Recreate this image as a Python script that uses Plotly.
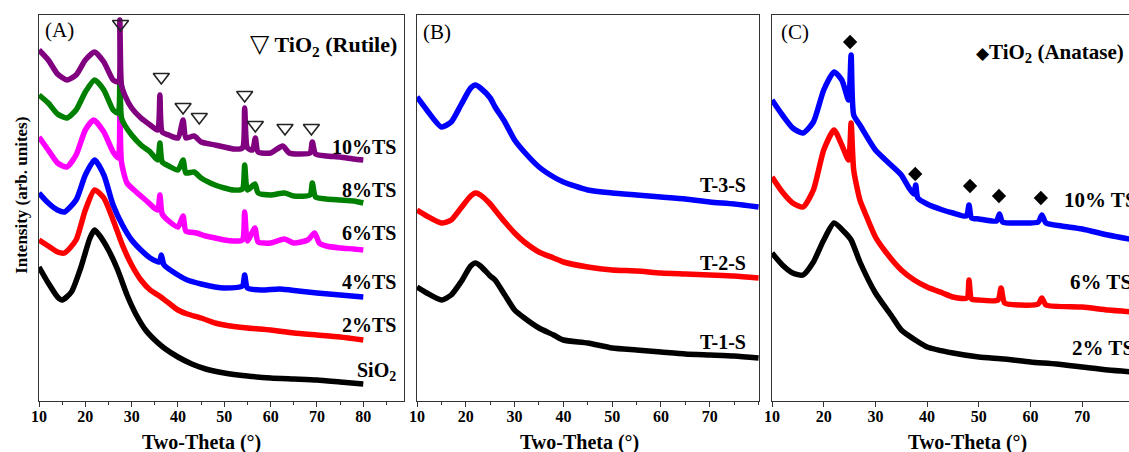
import plotly.graph_objects as go

# ---------------- Panel A data (Two-Theta in degrees, intensity arb.) ----------------
a10_x = [10, 12, 14, 16, 18, 20, 22, 24, 26, 27.1, 27.45, 27.8, 28.5, 30, 32, 34, 35.6, 36.1, 36.6, 38, 40,
         41.1, 41.7, 43.5, 45, 48, 50, 52, 53.9, 54.4, 55.0, 56.1, 56.7, 57.3, 60, 62.6, 64, 66, 68.5, 69.0,
         69.7, 72, 75, 78, 80]
a10_y = [351, 341, 327, 321, 326, 341, 349, 339, 321, 319, 381, 316, 306, 293, 283, 276, 271, 306, 269, 266, 263,
         281, 263, 265, 259, 256, 254, 252, 253, 293, 253, 251, 263, 249, 248, 255, 248, 247, 248, 259,
         247, 245, 244, 242, 241]

a8_x = [10, 12, 14, 16, 18, 20, 22, 24, 26, 27.1, 27.45, 27.8, 28.5, 30, 32, 34, 35.6, 36.1, 36.6, 38, 40,
        41.1, 41.7, 43.5, 45, 48, 50, 52, 53.9, 54.4, 55.0, 56.6, 57.3, 60, 63, 65, 68.5, 69.0, 69.7, 72, 75, 78, 80]
a8_y = [306, 298, 287, 283, 291, 309, 321, 311, 291, 288, 326, 283, 276, 266, 256, 249, 241, 258, 239, 235, 231,
        241, 228, 229, 223, 216, 213, 211, 212, 236, 211, 217, 208, 206, 208, 205, 206, 218, 204, 202, 201, 200, 198]

a6_x = [10, 12, 14, 16, 18, 20, 21.8, 24, 26, 27.1, 27.45, 27.8, 29, 31, 33, 35.6, 36.1, 36.6, 38, 40,
        41.1, 41.7, 44, 46, 48, 50, 52, 53.9, 54.4, 55.0, 56.6, 57.3, 60, 63, 65, 68, 69.5, 70.5, 72, 75, 78, 80]
a6_y = [264, 251, 238, 234, 246, 271, 281, 269, 249, 243, 301, 239, 218, 209, 201, 191, 206, 187, 180, 174,
        185, 170, 168, 165, 163, 161, 160, 161, 189, 160, 173, 159, 158, 162, 158, 161, 168, 158, 155, 153, 152, 151]

a4_x = [10, 12, 14, 15.5, 18, 20, 22, 24, 26, 28, 30, 32, 34, 36, 36.4, 37, 40, 42, 45, 48, 50, 53.9, 54.4,
        55, 58, 62, 66, 70, 75, 80]
a4_y = [208, 198, 191, 189, 201, 226, 241, 226, 196, 176, 161, 151, 143, 139, 146, 136, 126, 121, 117, 114, 113,
        115, 126, 113, 111, 112, 110, 108, 106, 104]

a2_x = [10, 12, 14, 15.5, 18, 20, 22, 24, 26, 28, 30, 32, 34, 36, 38, 40, 42, 45, 48, 50, 55, 60, 65, 70, 75, 80]
a2_y = [161, 155, 149, 148, 161, 191, 211, 203, 181, 156, 136, 121, 111, 105, 98, 91, 87, 83, 78, 76, 73, 71,
        68, 66, 64, 61]

asio2_x = [10, 12, 14, 15, 17, 19, 21, 22, 23, 25, 27, 29, 31, 33, 35, 37, 40, 43, 46, 50, 55, 60, 65, 70, 75, 80]
asio2_y = [134, 118, 104, 101, 109, 133, 163, 171, 166, 151, 131, 106, 86, 71, 61, 53, 44, 37, 32, 28, 25, 23,
           22, 21, 19, 17]

rutile_x = [27.6, 36.4, 41.1, 44.6, 54.4, 56.7, 63.1, 68.8]
rutile_y = [377, 324, 294, 284, 306, 276, 273, 273]

# ---------------- Panel B data ----------------
b_x = [10, 12, 15, 17, 19, 21, 22, 23, 25, 26, 28, 30, 32, 35, 38, 40, 45, 50, 55, 60, 65, 70, 75, 80]
b3_y = [304, 291, 274, 279, 296, 313, 316, 313, 303, 294, 279, 261, 249, 234, 224, 219, 211, 208, 206, 204,
        202, 199, 197, 194]
b2_y = [191, 185, 178, 181, 193, 205, 208, 206, 197, 191, 179, 168, 159, 149, 143, 139, 134, 131, 130, 128,
        127, 126, 125, 123]
b1_y = [114, 108, 101, 106, 119, 135, 138, 135, 125, 121, 106, 91, 83, 73, 66, 61, 58, 53, 51, 49, 47, 46,
        45, 43]

# ---------------- Panel C data ----------------
c10_x = [10, 12, 14, 16, 18, 20, 22, 23.5, 24.8, 25.3, 25.8, 27, 30, 33, 35, 36.5, 37.4, 37.8, 38.2, 40, 43, 45,
         47.6, 48.1, 48.6, 50, 53.4, 54, 54.6, 58, 61.5, 62.2, 63, 66, 70, 75, 80]
c10_y = [301, 286, 273, 268, 279, 311, 329, 321, 301, 346, 286, 276, 251, 236, 226, 213, 207, 216, 203, 197,
         191, 188, 185, 196, 183, 182, 180, 187, 179, 178, 179, 186, 178, 175, 172, 166, 161]

c6_x = [10, 12, 14, 16, 18, 20, 22, 23.5, 24.8, 25.3, 25.8, 27, 28, 30, 32, 35, 37.5, 40, 43, 45, 47.7, 48.1,
        48.6, 50, 53.7, 54.3, 55, 58, 61.5, 62.2, 63, 70, 75, 80]
c6_y = [224, 209, 198, 194, 211, 251, 271, 256, 241, 278, 231, 201, 188, 164, 149, 131, 121, 114, 108, 104,
        103, 121, 102, 101, 101, 113, 98, 96, 97, 103, 96, 94, 91, 89]

c2_x = [10, 12, 14, 16, 18, 20, 22, 24, 25.3, 27, 30, 33, 35, 38, 40, 45, 50, 55, 60, 65, 70, 75, 80]
c2_y = [148, 136, 128, 126, 139, 161, 178, 169, 161, 139, 108, 86, 71, 60, 54, 48, 44, 42, 39, 37, 34, 31, 29]

anatase_x = [25.1, 37.7, 48.3, 53.9, 62.0]
anatase_y = [359, 227, 215, 205, 203]

x_ticks = [10, 20, 30, 40, 50, 60, 70, 80]
x_ticks_b = [10, 20, 30, 40, 50, 60, 70]

SERIF = "Liberation Serif"
LW = 5.5

fig = go.Figure()

def add_line(x, y, color, ax):
    fig.add_trace(go.Scatter(x=x, y=y, mode="lines",
                             line=dict(color=color, width=LW, shape="spline", smoothing=0.6),
                             xaxis=ax, yaxis=ax.replace("x", "y"), showlegend=False, hoverinfo="skip"))

# panel A (bottom to top)
add_line(asio2_x, asio2_y, "#000000", "x")
add_line(a2_x, a2_y, "#FF0000", "x")
add_line(a4_x, a4_y, "#0000FF", "x")
add_line(a6_x, a6_y, "#FF00FF", "x")
add_line(a8_x, a8_y, "#008000", "x")
add_line(a10_x, a10_y, "#800080", "x")
fig.add_trace(go.Scatter(x=rutile_x, y=rutile_y, mode="markers",
                         marker=dict(symbol="triangle-down-open", size=14, color="#222222",
                                     line=dict(width=1.6, color="#222222")),
                         xaxis="x", yaxis="y", showlegend=False, hoverinfo="skip"))

# panel B
add_line(b_x, b1_y, "#000000", "x2")
add_line(b_x, b2_y, "#FF0000", "x2")
add_line(b_x, b3_y, "#0000FF", "x2")

# panel C
add_line(c2_x, c2_y, "#000000", "x3")
add_line(c6_x, c6_y, "#FF0000", "x3")
add_line(c10_x, c10_y, "#0000FF", "x3")
fig.add_trace(go.Scatter(x=anatase_x, y=anatase_y, mode="markers",
                         marker=dict(symbol="diamond", size=11, color="#000000"),
                         xaxis="x3", yaxis="y3", showlegend=False, hoverinfo="skip"))

tickfont = dict(family=SERIF, size=16, color="#000000", weight="bold")
xcommon = dict(showline=True, linecolor="#333333", linewidth=1, mirror=True,
               ticks="outside", ticklen=5, tickwidth=1, tickcolor="#333333",
               showgrid=False, zeroline=False, tickfont=tickfont, ticklabelstandoff=-4)
minor = dict(dtick=5, ticks="outside", ticklen=3, tickcolor="#333333", showgrid=False)
ycommon = dict(showline=True, linecolor="#333333", linewidth=1, ticks="", showticklabels=False,
               showgrid=False, zeroline=False, range=[0, 386])

fig.update_layout(
    width=1129, height=452,
    margin=dict(l=39, r=0, t=15, b=51),
    paper_bgcolor="white", plot_bgcolor="white",
    font=dict(family=SERIF),
    xaxis=dict(domain=[0, 0.3349], range=[10, 88.8], tickvals=x_ticks, minor=minor, **xcommon),
    yaxis=dict(anchor="x", mirror=True, **ycommon),
    xaxis2=dict(domain=[0.3468, 0.6606], range=[10, 80.1], anchor="y2", tickvals=x_ticks_b, minor=minor, **xcommon),
    yaxis2=dict(anchor="x2", mirror=True, **ycommon),
    xaxis3=dict(domain=[0.6725, 1.0], range=[10, 79.05], anchor="y3", tickvals=x_ticks, **xcommon),
    yaxis3=dict(anchor="x3", mirror=False, **ycommon),
)

def txt(x, y, s, xref, yref, size=20, xanchor="center", bold=True, angle=0):
    fig.add_annotation(x=x, y=y, xref=xref, yref=yref, text=(f"<b>{s}</b>" if bold else s),
                       showarrow=False, xanchor=xanchor, yanchor="middle", textangle=angle,
                       font=dict(family=SERIF, size=size, color="#000000"))

# panel letters
txt(14.5, 371, "(A)", "x", "y", size=21, bold=False)
txt(14.1, 369, "(B)", "x2", "y2", size=21, bold=False)
txt(14.4, 369, "(C)", "x3", "y3", size=21, bold=False)

# legends
fig.add_annotation(x=87.8, y=356, xref="x", yref="y", xanchor="right", yanchor="middle", showarrow=False,
                   text="<span style='font-size:25px'>▽</span> <b>TiO<sub>2</sub> (Rutile)</b>",
                   font=dict(family=SERIF, size=22, color="#000000"))
fig.add_annotation(x=78.5, y=348, xref="x3", yref="y3", xanchor="right", yanchor="middle", showarrow=False,
                   text="<span style='font-size:17px'>◆</span><b>TiO<sub>2</sub> (Anatase)</b>",
                   font=dict(family=SERIF, size=21, color="#000000"))

# series labels panel A
for s, yy in [("10%TS", 254), ("8%TS", 211), ("6%TS", 168), ("4%TS", 119), ("2%TS", 76), ("SiO<sub>2</sub>", 30)]:
    txt(87.6, yy, s, "x", "y", size=20, xanchor="right")
# panel B
for s, yy in [("T-3-S", 216), ("T-2-S", 138), ("T-1-S", 59)]:
    txt(77.8, yy, s, "x2", "y2", size=20, xanchor="right")
# panel C (labels run past the right edge, as in the reference)
for s, xx, yy in [("10% TS", 66.1, 201), ("6% TS", 67.3, 119), ("2% TS", 67.6, 53)]:
    txt(xx, yy, s, "x3", "y3", size=21, xanchor="left")

# axis titles
for xp in [0.1495, 0.4963, 0.8514]:
    txt(xp, -0.108, "Two-Theta (°)", "paper", "paper", size=20)
txt(-0.0156, 0.534, "Intensity (arb. unites)", "paper", "paper", size=17, angle=-90)

fig.write_html("out.html")
